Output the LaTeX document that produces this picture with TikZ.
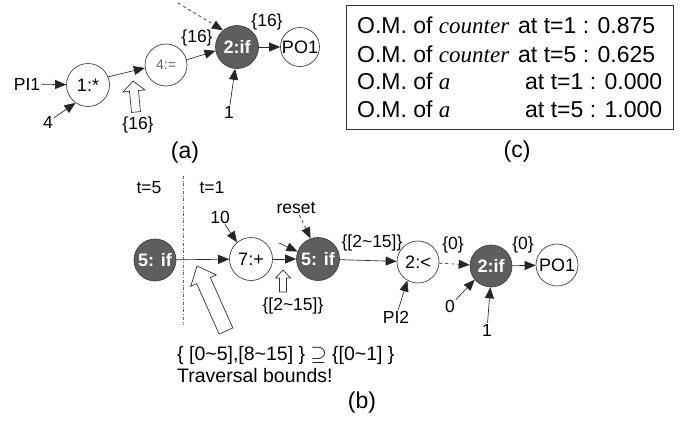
\documentclass[tikz,border=0pt]{standalone}
\usepackage{fontspec}
\setmainfont{Liberation Sans}
\newfontfamily\tnr{Liberation Serif}
\usetikzlibrary{arrows.meta,calc}
\newcommand\HollowArr[5]{%
  \coordinate (hn) at ($(#2)!#5!(#1)$);
  \draw[hollowarr] ($(#1)!#3!90:(#2)$) -- ($(hn)!#3!90:(#2)$) -- ($(hn)!#4!90:(#2)$) -- (#2)
    -- ($(hn)!#4!-90:(#2)$) -- ($(hn)!#3!-90:(#2)$) -- ($(#1)!#3!-90:(#2)$) -- cycle;}
\begin{document}
\begin{tikzpicture}[x=1pt,y=-1pt,
  wn/.style={circle,draw=black!75,line width=0.7pt,fill=white,inner sep=0pt,minimum size=43pt,font=\fontsize{18}{18}\selectfont},
  dn/.style={wn,fill=black!63,text=white,font=\fontsize{18}{18}\selectfont\bfseries},
  lb/.style={inner sep=1pt,font=\fontsize{17.5}{17.5}\selectfont},
  arr/.style={-{Triangle[length=11pt,width=9pt]},line width=0.65pt,draw=black!85},
  darr/.style={arr,dashed},
  hollowarr/.style={draw=black!80,line width=0.7pt,fill=white,line join=miter},
  capt/.style={font=\fontsize{23}{23}\selectfont,inner sep=0pt},
  om/.style={font=\fontsize{23}{23}\selectfont,inner sep=0pt,anchor=base west}]
\useasboundingbox (0,0) rectangle (684,421);

% ---------- (a)
\node[wn] (a1) at (88,85) {1:*};
\node[wn,minimum size=42pt,text=black!60,font=\fontsize{14}{14}\selectfont] (a4) at (166,65) {4:=};
\node[dn] (a2) at (237,47) {2:if};
\node[wn,minimum size=39pt] (apo) at (300,47) {PO1};
\node[lb] (api) at (27,84) {PI1};
\node[lb] (afour) at (48,122) {4};
\node[lb] (aone) at (229,112) {1};
\node[lb] (a16l) at (197,38) {\{16\}};
\node[lb] (a16r) at (267,22) {\{16\}};
\node[lb] (a16b) at (138,125) {\{16\}};
\coordinate (adash) at (178,3);
\draw[arr] (api) -- (a1);
\draw[arr] (afour) -- (a1.235);
\draw[arr] (a1.22) -- (a4.188);
\draw[arr] (a4.14) -- (a2.190);
\draw[arr] (a2) -- (apo);
\draw[arr] (aone) -- (a2.265);
\draw[darr] (adash) -- (a2.130);
\coordinate (ahb) at (136,112);
\coordinate (aht) at (133,81);
\HollowArr{ahb}{aht}{4.5pt}{11pt}{10pt}
\node[capt] (capa) at (185,153) {(a)};

% ---------- (c)
\node[draw=black!80,line width=0.8pt,minimum width=327pt,minimum height=124pt,inner sep=0pt] (cbox) at (509.5,67) {};
\node[om] (c1) at (357,33) {O.M. of {\tnr\itshape counter}};
\node[om] (c1b) at (518,33) {at t=1 : 0.875};
\node[om] (c2) at (357,62) {O.M. of {\tnr\itshape counter}};
\node[om] (c2b) at (518,62) {at t=5 : 0.625};
\node[om] (c3) at (357,89) {O.M. of {\tnr\itshape a}};
\node[om] (c3b) at (525,89) {at t=1 : 0.000};
\node[om] (c4) at (357,117) {O.M. of {\tnr\itshape a}};
\node[om] (c4b) at (525,117) {at t=5 : 1.000};
\node[capt] (capc) at (517,152) {(c)};

% ---------- (b)
\node[lb] (t5) at (149,188) {t=5};
\node[lb] (t1) at (212,188) {t=1};
\coordinate (dtop) at (183,176);
\coordinate (dbot) at (183,325);
\draw[black!60,dash dot,line width=0.7pt] (dtop) -- (dbot);

\node[dn,minimum size=42pt] (b5a) at (155,260) {5: if};
\node[wn] (b7) at (251,259) {7:+};
\node[dn] (b5b) at (318,259) {5: if};
\node[wn,minimum size=42pt] (b2l) at (418,262) {2:<};
\node[dn,minimum size=42pt] (b2if) at (491,266) {2:if};
\node[wn,minimum size=42pt] (bpo) at (557,265) {PO1};

\node[lb] (b10) at (220,217) {10};
\node[lb] (breset) at (296,208) {reset};
\node[lb] (b215a) at (372,243) {\{[2\textasciitilde15]\}};
\node[lb] (b215b) at (293,306) {\{[2\textasciitilde15]\}};
\node[lb] (b0a) at (453,245) {\{0\}};
\node[lb] (b0b) at (523,245) {\{0\}};
\node[lb] (bpi2) at (396,317) {PI2};
\node[lb] (bzero) at (450,306) {0};
\node[lb] (bone) at (487,330) {1};
\coordinate (bstub) at (279,243);

\draw[arr] (b5a) -- (b7);
\draw[arr] (b10) -- (b7.130);
\draw[arr] (b7) -- (b5b);
\draw[arr] (bstub) -- (b5b.160);
\draw[darr] (breset) -- (b5b.110);
\draw[arr] (b5b) -- (b2l);
\draw[darr] (b2l) -- (b2if);
\draw[arr] (b2if) -- (bpo);
\draw[arr] (bpi2) -- (b2l.240);
\draw[arr] (bzero) -- (b2if.220);
\draw[arr] (bone) -- (b2if.268);

\coordinate (bhb) at (283,292);
\coordinate (bht) at (283,270);
\HollowArr{bhb}{bht}{3.5pt}{7.5pt}{8pt}
\coordinate (bbb) at (226,331);
\coordinate (bbt) at (197,266);
\HollowArr{bbb}{bbt}{7.5pt}{14pt}{16pt}

\node[inner sep=0pt,font=\fontsize{19.5}{19.5}\selectfont,anchor=base west] (bset) at (177,360) {\{ [0\textasciitilde5],[8\textasciitilde15] \} $\supseteq$ \{[0\textasciitilde1] \}};
\node[inner sep=0pt,font=\fontsize{19.5}{19.5}\selectfont,anchor=base west] (btrav) at (177,382) {Traversal bounds!};
\node[capt] (capb) at (362,403) {(b)};
\end{tikzpicture}
\end{document}
